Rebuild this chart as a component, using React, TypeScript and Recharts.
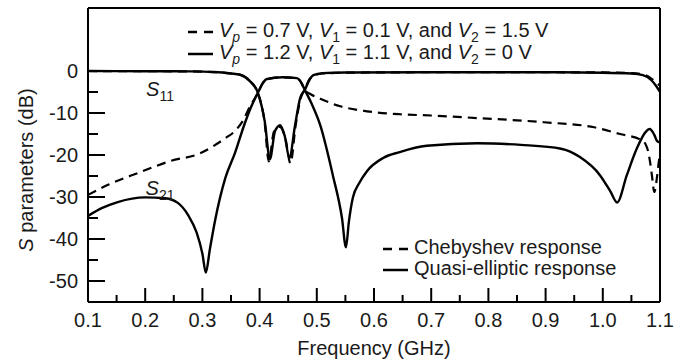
import React from 'react';
import { LineChart, Line, XAxis, YAxis } from 'recharts';

const FONT = '"Liberation Sans", Arial, Helvetica, sans-serif';
const INK = '#1a1a1a';

// frequency ticks (GHz); every other one is labelled
const xTicks = [0.1, 0.15, 0.2, 0.25, 0.3, 0.35, 0.4, 0.45, 0.5, 0.55, 0.6, 0.65, 0.7, 0.75, 0.8, 0.85, 0.9, 0.95, 1.0, 1.05, 1.1];
// dB ticks; multiples of 10 are labelled
const yTicks = [-50, -45, -40, -35, -30, -25, -20, -15, -10, -5, 0];

// [frequency GHz, dB]
const chebyS11: [number, number][] = [
  [0.1, 0], [0.2, -0.05], [0.28, -0.1], [0.32, -0.25], [0.35, -0.6], [0.366, -0.9], [0.383, -2.4],
  [0.397, -5.2], [0.409, -12.5], [0.416, -21.5], [0.425, -14.5], [0.435, -13.3], [0.445, -16],
  [0.454, -22], [0.463, -13], [0.472, -6.4], [0.479, -4.4], [0.487, -2], [0.495, -1.1], [0.51, -0.6],
  [0.55, -0.4], [0.7, -0.3], [0.9, -0.3], [1.0, -0.35], [1.05, -0.5], [1.07, -0.8], [1.085, -1.8], [1.1, -3.5],
];

const chebyS21: [number, number][] = [
  [0.1, -29.5], [0.135, -27.1], [0.187, -24.3], [0.245, -21.4], [0.296, -19.6], [0.319, -17.9],
  [0.34, -16], [0.356, -14.4], [0.371, -11.8], [0.383, -8.5], [0.397, -5.2], [0.405, -3], [0.413, -1.9],
  [0.44, -1.5], [0.465, -1.7], [0.473, -2.8], [0.479, -4.5], [0.49, -5.6], [0.506, -6.6], [0.541, -8.4],
  [0.588, -9.6], [0.645, -10.3], [0.7, -10.6], [0.78, -11.2], [0.897, -12.2], [0.985, -13.4], [1.03, -15],
  [1.067, -16.4], [1.075, -17.5], [1.079, -19], [1.083, -22], [1.086, -25], [1.09, -28.8], [1.095, -25],
  [1.098, -21.5], [1.1, -20],
];

const quasiS11: [number, number][] = [
  [0.1, 0], [0.2, -0.05], [0.28, -0.1], [0.32, -0.25], [0.35, -0.6], [0.366, -0.9], [0.383, -2.4],
  [0.397, -5.2], [0.409, -12], [0.418, -21], [0.427, -14.3], [0.436, -12.9], [0.444, -15.5],
  [0.452, -20.7], [0.462, -12.9], [0.471, -6.4], [0.479, -4.5], [0.488, -1.9], [0.494, -1], [0.51, -0.5],
  [0.55, -0.35], [0.7, -0.3], [0.9, -0.3], [1.0, -0.4], [1.05, -0.6], [1.07, -1], [1.085, -2.2],
  [1.093, -3.5], [1.1, -5],
];

const quasiS21: [number, number][] = [
  [0.1, -34.5], [0.125, -32.6], [0.152, -31.2], [0.2, -30.1], [0.235, -30.3], [0.257, -31.4],
  [0.275, -34.3], [0.29, -38.5], [0.3, -43.5], [0.306, -48], [0.313, -42.5], [0.322, -35.7],
  [0.34, -25.5], [0.357, -19.5], [0.374, -12.5], [0.387, -8], [0.397, -5.2], [0.405, -3], [0.413, -1.9],
  [0.44, -1.5], [0.465, -1.7], [0.473, -2.8], [0.479, -4.5], [0.49, -7.5], [0.506, -12.9], [0.528, -24.8],
  [0.544, -35], [0.551, -42], [0.556, -36], [0.563, -30.2], [0.575, -26.5], [0.588, -23.8], [0.616, -20.7],
  [0.645, -19.3], [0.692, -17.8], [0.78, -17.2], [0.857, -17.6], [0.927, -18.5], [0.96, -20.5],
  [0.995, -24.8], [1.013, -28.6], [1.025, -31.3], [1.042, -24.8], [1.06, -18.3], [1.075, -14.5],
  [1.082, -13.8], [1.09, -15.2], [1.095, -16.7], [1.1, -17],
];

const X_MIN = 0.1;
const X_MAX = 1.1;
const Y_MIN = -55;
const Y_MAX = 15;

const rows = (pts: [number, number][]) => pts.map(([f, db]) => ({ f, db }));
const isMajorX = (v: number) => Math.round(v * 100) % 10 === 0;
const isMajorY = (v: number) => v % 10 === 0;

// tick marks point into the frame
const XTick = (props: any) => {
  const { x, y, payload } = props;
  const v = payload.value as number;
  const major = isMajorX(v);
  const len = major ? 14 : 7;
  return (
    <g>
      <line x1={x} y1={y} x2={x} y2={y - len} stroke="#000" strokeWidth={2} />
      {major && (
        <text x={x} y={y + 25} textAnchor="middle" fontSize={20} fontFamily={FONT} fill={INK}>
          {v.toFixed(1)}
        </text>
      )}
    </g>
  );
};

const YTick = (props: any) => {
  const { x, y, payload } = props;
  const v = payload.value as number;
  const major = isMajorY(v);
  const len = major ? 17 : 10;
  return (
    <g>
      <line x1={x} y1={y} x2={x + len} y2={y} stroke="#000" strokeWidth={2} />
      {major && (
        <text x={x - 10} y={y + 7} textAnchor="end" fontSize={20} fontFamily={FONT} fill={INK}>
          {v}
        </text>
      )}
    </g>
  );
};

const Sub = ({ children, italic }: { children: React.ReactNode; italic?: boolean }) => (
  <span style={{ fontSize: 14, verticalAlign: -5, lineHeight: 0, fontStyle: italic ? 'italic' : 'normal' }}>{children}</span>
);

const Icon = ({ dashed }: { dashed?: boolean }) => (
  <svg width={25} height={10} style={{ marginRight: 6, verticalAlign: 'middle' }}>
    <line x1={0} y1={5} x2={25} y2={5} stroke="#000" strokeWidth={2.5} strokeDasharray={dashed ? '9 7' : undefined} />
  </svg>
);

const textBox: React.CSSProperties = {
  position: 'absolute',
  fontFamily: FONT,
  fontSize: 20,
  color: INK,
  whiteSpace: 'nowrap',
  lineHeight: '22px',
};

const centered: React.CSSProperties = { ...textBox, transform: 'translate(-50%, -50%)' };

const frameLine = { stroke: '#000', strokeWidth: 2 };

export default function App() {
  const common = { type: 'monotone' as const, dataKey: 'db', stroke: '#000', dot: false, isAnimationActive: false };
  return (
    <div style={{ position: 'absolute', left: 0, top: 0, width: 688, height: 362 }}>
      <LineChart width={688} height={362} margin={{ top: 7, right: 27, bottom: 0, left: 0 }}>
        <XAxis
          type="number"
          dataKey="f"
          domain={[X_MIN, X_MAX]}
          ticks={xTicks}
          interval={0}
          height={60}
          tickSize={0}
          tickMargin={0}
          tickLine={false}
          tick={<XTick />}
          axisLine={frameLine}
        />
        <XAxis
          xAxisId="top"
          orientation="top"
          type="number"
          domain={[X_MIN, X_MAX]}
          height={1}
          tick={false}
          tickLine={false}
          axisLine={frameLine}
        />
        <YAxis
          type="number"
          domain={[Y_MIN, Y_MAX]}
          ticks={yTicks}
          interval={0}
          width={88}
          tickSize={0}
          tickMargin={0}
          tickLine={false}
          tick={<YTick />}
          axisLine={frameLine}
        />
        <YAxis
          yAxisId="right"
          orientation="right"
          type="number"
          domain={[Y_MIN, Y_MAX]}
          width={1}
          tick={false}
          tickLine={false}
          axisLine={frameLine}
        />
        <Line {...common} data={rows(chebyS11)} name="Chebyshev S11" strokeWidth={2.2} strokeDasharray="9 6" />
        <Line {...common} data={rows(chebyS21)} name="Chebyshev S21" strokeWidth={2.2} strokeDasharray="9 6" />
        <Line {...common} data={rows(quasiS11)} name="Quasi-elliptic S11" strokeWidth={2.4} />
        <Line {...common} data={rows(quasiS21)} name="Quasi-elliptic S21" strokeWidth={2.4} />
      </LineChart>

      <div style={{ ...centered, left: 160, top: 89 }}>
        <i>S</i><Sub>11</Sub>
      </div>
      <div style={{ ...centered, left: 160, top: 188 }}>
        <i>S</i><Sub>21</Sub>
      </div>

      <div style={{ ...textBox, left: 88, width: 572, top: 337, textAlign: 'center' }}>
        Frequency (GHz)
      </div>
      <div style={{ ...textBox, left: 26, top: 170, transform: 'translate(-50%, -50%) rotate(-90deg)' }}>
        <i>S</i> parameters (dB)
      </div>

      <div style={{ ...textBox, left: 188, top: 19 }}>
        <div>
          <Icon dashed />
          <i>V</i><Sub italic>p</Sub> = 0.7 V, <i>V</i><Sub>1</Sub> = 0.1 V, and <i>V</i><Sub>2</Sub> = 1.5 V
        </div>
        <div>
          <Icon />
          <i>V</i><Sub italic>p</Sub> = 1.2 V, <i>V</i><Sub>1</Sub> = 1.1 V, and <i>V</i><Sub>2</Sub> = 0 V
        </div>
      </div>

      <div style={{ ...textBox, left: 383, top: 237, lineHeight: '21px' }}>
        <div>
          <Icon dashed />
          Chebyshev response
        </div>
        <div>
          <Icon />
          Quasi-elliptic response
        </div>
      </div>
    </div>
  );
}
